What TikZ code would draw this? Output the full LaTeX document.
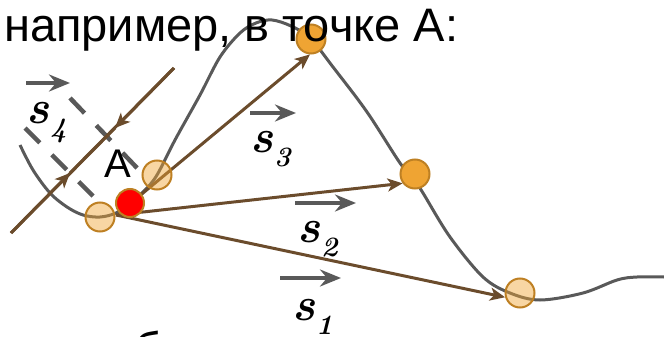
\documentclass[tikz,border=0pt]{standalone}
\usepackage{fontspec}
\newfontfamily\arialf{Liberation Sans}
\usetikzlibrary{arrows.meta}
\definecolor{curvegray}{RGB}{89,89,89}
\definecolor{vecbrown}{RGB}{107,76,44}
\definecolor{dotorange}{RGB}{239,164,51}
\definecolor{dotedge}{RGB}{190,128,35}
\tikzset{
  curveline/.style={draw=curvegray, line width=3pt},
  vecline/.style={draw=vecbrown, line width=3pt},
  vec/.style={vecline, -{Stealth[length=15pt,width=13pt,inset=4pt]}},
  dirarrow/.style={draw=curvegray, line width=4.5pt, -{Stealth[length=21pt,width=17pt,inset=7pt]}},
  dashline/.style={draw=curvegray, line width=4.5pt, dash pattern=on 21pt off 17pt},
  lightdot/.style={circle, minimum size=29pt, inner sep=0pt, draw=dotedge, line width=2pt, fill=dotorange, fill opacity=0.45},
  orangedot/.style={circle, minimum size=29pt, inner sep=0pt, draw=dotedge, line width=2pt, fill=dotorange},
  reddot/.style={circle, minimum size=28pt, inner sep=0pt, draw=dotedge, line width=2pt, fill=red},
  slabel/.style={anchor=base west, inner sep=0pt, font=\fontsize{47}{54}\selectfont},
  sanstext/.style={anchor=base west, inner sep=0pt, font=\arialf\fontsize{47}{54}\selectfont},
}
\newcommand{\svec}[1]{\textbf{\textit{s}}\kern1pt\raisebox{-14pt}{\fontsize{28}{32}\selectfont\bfseries\itshape #1}}
\begin{document}
\begin{tikzpicture}[x=1pt,y=-1pt]
\useasboundingbox (0,0) rectangle (664,337);
\clip (0,0) rectangle (664,337);
% curve
\draw[curveline] plot[smooth, tension=0.55] coordinates {
 (20,145) (33,170) (50,193) (67,207) (83,215) (100,217) (116,213) (130,203)
 (145,190) (157,175) (175,140) (200,95) (220,57) (240,33) (256,23) (272,20)
 (291,26) (310,38) (333,67) (367,112) (400,163) (412,176) (423,193) (450,237)
 (483,277) (510,293) (540,300) (583,293) (617,280) (637,277) (664,277)};
% dashed lines
\coordinate (d1a) at (25,128); \coordinate (d1b) at (93,196);
\coordinate (d2a) at (70,98);  \coordinate (d2b) at (139,170);
\draw[dashline] (d1a) -- (d1b);
\draw[dashline] (d2a) -- (d2b);
% s4 back and forth
\coordinate (p0) at (11,233); \coordinate (q1) at (70,173);
\coordinate (q2) at (115,128); \coordinate (p3) at (174,68);
\draw[vecline] (p0) -- (q2);
\draw[vecline, shift={(1,1)}] (p3) -- (q1);
\draw[vec] (p0) -- (q1);
\draw[vec, shift={(1,1)}] (p3) -- (q2);
% dots
\node[lightdot] (c1) at (100,217) {};
\node[orangedot] (t3) at (311,39) {};
\node[orangedot] (t2) at (415,174) {};
\node[lightdot] (t1) at (520,293) {};
% vectors
\coordinate (o) at (116,215);
\coordinate (o3) at (137,198);
\draw[vec] (o) -- (t1.196);
\draw[vec] (o) -- (t2.217);
\draw[vec] (o3) -- (t3.266);
\node[lightdot] (c3) at (157,175) {};
\node[reddot] (A) at (130,203) {};
% direction arrows
\coordinate (g4a) at (26,83);  \coordinate (g4b) at (70,83);
\coordinate (g3a) at (250,113); \coordinate (g3b) at (296,113);
\coordinate (g2a) at (295,203); \coordinate (g2b) at (356,203);
\coordinate (g1a) at (280,278); \coordinate (g1b) at (341,278);
\draw[dirarrow] (g4a) -- (g4b);
\draw[dirarrow] (g3a) -- (g3b);
\draw[dirarrow] (g2a) -- (g2b);
\draw[dirarrow] (g1a) -- (g1b);
% labels
\node[slabel] (l4) at (26,123) {\svec{4}};
\node[slabel] (l3) at (250,152) {\svec{3}};
\node[slabel] (l2) at (297,242) {\svec{2}};
\node[slabel] (l1) at (292,320) {\svec{1}};
\node[sanstext, font=\arialf\fontsize{40}{48}\selectfont] (lA) at (104,177) {А};
% title
\node[sanstext] (title) at (4,42) {например, в точке А:};
\node[sanstext] (tail) at (134,365) {б};
\end{tikzpicture}
\end{document}
